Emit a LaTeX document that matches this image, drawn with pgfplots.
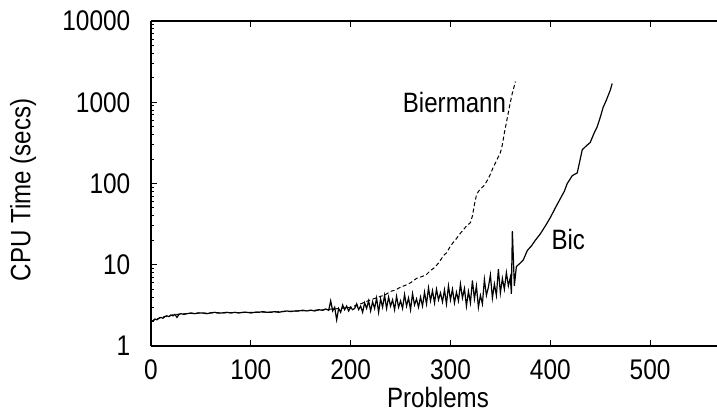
\documentclass[border=0pt]{standalone}
\usepackage{fontspec}
\setmainfont{Liberation Sans}[FakeStretch=0.86]
\usepackage{pgfplots}
\pgfplotsset{compat=1.18}
\begin{document}
\begin{tikzpicture}
\begin{axis}[
  name=ax,
  scale only axis=true,
  width=283pt, height=162.5pt,
  xmin=0, xmax=567, ymin=1, ymax=10000,
  ymode=log,
  axis x line=box, axis y line*=left,
  x axis line style={-}, y axis line style={-},
  tick align=inside,
  major tick length=3pt, minor tick length=1.7pt,
  every tick/.style={black, line width=0.5pt},
  axis line style={black, line width=0.6pt},
  xtick={0,100,200,300,400,500},
  ytick={1,10,100,1000,10000},
  yticklabels={1,10,100,1000,10000},
  minor ytick={2,3,4,5,6,7,8,9,20,30,40,50,60,70,80,90,200,300,400,500,600,700,800,900,2000,3000,4000,5000,6000,7000,8000,9000},
  /pgf/number format/assume math mode=true,
  tick label style={font=\fontsize{14.2}{16}\selectfont},
  xticklabel style={yshift=-3.4pt},
  yticklabel style={xshift=-6.8pt},
  xlabel={Problems},
  ylabel={CPU Time (secs)},
  label style={font=\fontsize{14}{16}\selectfont},
  xlabel style={at={(axis description cs:0.507,0)}, anchor=base, yshift=-30.5pt},
  ylabel style={at={(axis description cs:-0.226,0.48)}, anchor=center},
  clip=false,
]
% Biermann (dashed)
\addplot[black, line width=0.5pt, dash pattern=on 2pt off 1.3pt] coordinates {
(0,2.0) (3,2.08) (6,2.15) (10,2.25) (15,2.33) (20,2.4) (25,2.44) (30,2.48) (40,2.52) (50,2.54)
(60,2.55) (70,2.56) (80,2.57) (90,2.58) (100,2.6) (110,2.61) (120,2.62) (130,2.65) (140,2.68)
(150,2.71) (160,2.74) (170,2.78) (180,2.84) (190,2.9) (200,3.0) (205,3.15) (210,3.3) (215,3.5)
(220,3.7) (228,4.0) (235,4.3) (240,4.7) (245,4.9) (250,5.3) (255,5.6) (260,6.0) (266,6.8)
(272,7.2) (276,7.6) (280,8.5) (284,9.2) (288,10.5) (290,11.4) (293,13) (296,14) (300,17)
(303,19) (306,21) (310,24.5) (313,27) (316,30) (320,33) (322,40) (324,55) (326,72) (328,80)
(331,88) (334,95) (337,110) (340,130) (343,160) (346,190) (350,240) (352,300) (354,420)
(356,560) (358,750) (360,1000) (362,1300) (364,1600) (365,1800)
};
% Bic (solid)
\addplot[black, line width=0.6pt] coordinates {
(0,2.0) (2,2.05) (4,2.15) (6,2.1) (8,2.2) (10,2.25) (12,2.2) (14,2.3) (16,2.35) (18,2.3)
(20,2.4) (22,2.35) (24,2.45) (26,2.25) (28,2.45) (30,2.5) (33,2.45) (36,2.5) (40,2.55)
(44,2.5) (48,2.56) (52,2.55) (56,2.5) (60,2.56) (64,2.6) (68,2.54) (72,2.56) (76,2.6)
(80,2.55) (84,2.6) (88,2.55) (92,2.6) (96,2.6) (100,2.55) (104,2.6) (108,2.6) (112,2.65)
(116,2.6) (120,2.6) (124,2.65) (128,2.6) (132,2.66) (136,2.7) (140,2.65) (144,2.7)
(148,2.7) (152,2.76) (156,2.7) (160,2.76) (164,2.7) (168,2.8) (172,2.75) (175,2.86)
(178,2.75) (180,3.6) (182,2.7) (184,3.0) (186,2.1) (188,2.9) (190,2.6) (192,3.2) (194,2.8)
(196,3.1) (198,2.7) (200,3.0) (202,2.8) (204,2.9) (206,3.3) (208,2.8) (210,3.1) (212,2.6)
(214,3.4) (216,2.9) (218,3.6) (220,2.7) (222,3.5) (224,2.9) (226,3.9) (228,2.6) (230,3.8)
(232,3.0) (234,4.2) (236,2.9) (238,4.0) (240,3.1) (242,3.7) (244,2.8) (246,4.1) (248,3.0)
(250,3.6) (252,2.9) (254,4.3) (256,3.1) (258,3.9) (260,2.8) (262,4.4) (264,3.2) (266,3.8)
(268,3.0) (270,4.0) (272,3.1) (274,4.6) (276,3.3) (278,5.2) (280,3.6) (282,4.8) (284,3.4)
(286,5.0) (288,3.7) (290,4.5) (292,3.5) (294,4.9) (296,3.3) (298,5.5) (300,3.7) (302,5.0)
(304,3.4) (306,4.6) (308,3.6) (310,5.8) (312,3.9) (314,5.1) (316,3.1) (318,4.7) (320,3.4)
(322,6.4) (324,3.8) (326,5.5) (328,3.0) (330,4.2) (332,3.3) (334,6.6) (336,4.2) (338,5.3)
(340,7.5) (342,3.9) (344,5.8) (346,4.2) (348,8.8) (350,4.5) (352,6.8) (354,5.0) (356,8.0)
(358,5.5) (360,7.0) (361,4.4) (362,26) (363,12) (364,5.5) (366,9.5) (368,10) (370,10.5)
(373,11.5) (377,15) (381,17) (385,20) (390,24) (395,30) (400,38) (405,50) (410,65)
(414,80) (417,100) (422,125) (427,135) (430,200) (432,260) (436,290) (440,320) (444,420)
(447,500) (450,650) (453,870) (456,1050) (460,1400) (462,1700)
};
\node[font=\fontsize{14}{16}\selectfont] at (axis cs:304,1000) {Biermann};
\node[font=\fontsize{14}{16}\selectfont] at (axis cs:418,20.2) {Bic};
\end{axis}
\pgfresetboundingbox
\path[use as bounding box] ([shift={(-75.5pt,-33pt)}]ax.south west) rectangle ([shift={(0pt,10.5pt)}]ax.north east);
\end{tikzpicture}
\end{document}
